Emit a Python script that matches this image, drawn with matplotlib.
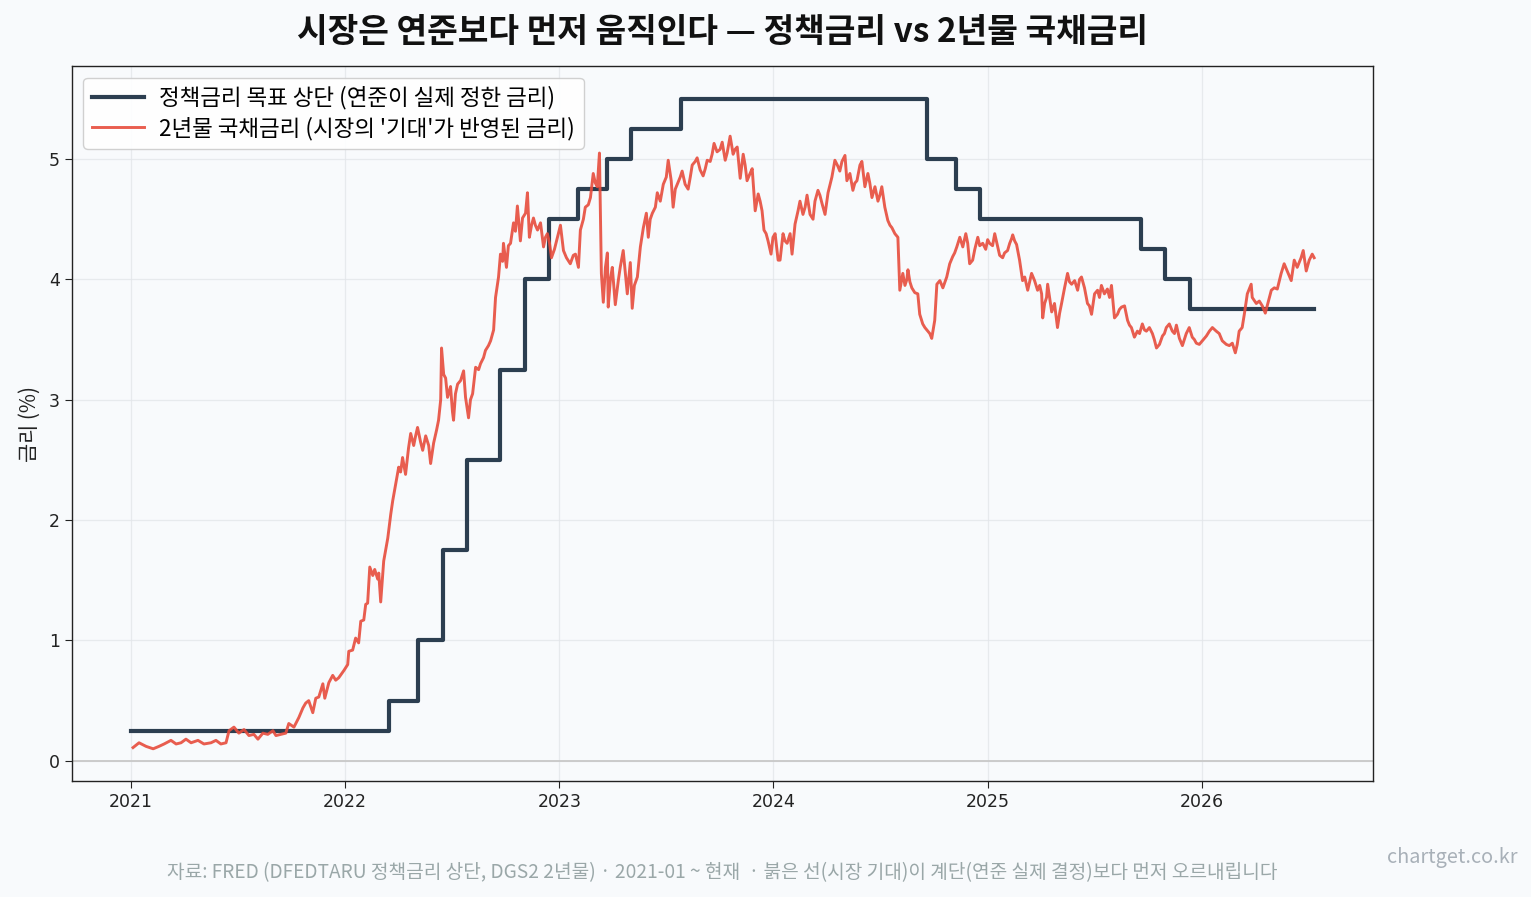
import matplotlib
matplotlib.use("Agg")
import matplotlib.pyplot as plt
import pandas as pd
import numpy as np

plt.rcParams['font.family'] = ['Noto Sans CJK KR', 'DejaVu Sans']

# ---------------- data ----------------
# Fed funds target upper bound: change dates and levels (step, held until next date)
policy_dates = ['2021-01-01', '2022-03-17', '2022-05-05', '2022-06-16', '2022-07-28',
                '2022-09-22', '2022-11-03', '2022-12-15', '2023-02-02', '2023-03-23',
                '2023-05-04', '2023-07-27', '2024-09-19', '2024-11-08', '2024-12-19',
                '2025-09-18', '2025-10-30', '2025-12-11', '2026-07-10']
policy_rate = [0.25, 0.50, 1.00, 1.75, 2.50, 3.25, 4.00, 4.50, 4.75, 5.00,
               5.25, 5.50, 5.00, 4.75, 4.50, 4.25, 4.00, 3.75, 3.75]

# 2-year Treasury yield: observation time (years after 2021-01-01) and value (%)
y2_t = [0.009, 0.037, 0.070, 0.103, 0.130, 0.154, 0.186, 0.210, 0.233, 0.256,
        0.280, 0.312, 0.340, 0.373, 0.396, 0.419, 0.443, 0.457, 0.480, 0.503,
        0.527, 0.550, 0.573, 0.592, 0.615, 0.638, 0.662, 0.676, 0.699, 0.722,
        0.736, 0.760, 0.783, 0.802, 0.815, 0.829, 0.848, 0.862, 0.876, 0.895,
        0.904, 0.923, 0.941, 0.955, 0.969, 0.993, 1.011, 1.016, 1.034, 1.048,
        1.062, 1.072, 1.086, 1.095, 1.104, 1.114, 1.128, 1.137, 1.151, 1.156,
        1.165, 1.174, 1.179, 1.188, 1.198, 1.212, 1.221, 1.235, 1.249, 1.258,
        1.267, 1.281, 1.295, 1.305, 1.319, 1.328, 1.337, 1.351, 1.361, 1.375,
        1.389, 1.398, 1.412, 1.426, 1.435, 1.445, 1.449, 1.459, 1.468, 1.477,
        1.491, 1.500, 1.505, 1.514, 1.524, 1.538, 1.552, 1.561, 1.575, 1.584,
        1.594, 1.608, 1.622, 1.631, 1.645, 1.654, 1.668, 1.678, 1.692, 1.701,
        1.715, 1.724, 1.734, 1.738, 1.752, 1.761, 1.771, 1.785, 1.794, 1.803,
        1.817, 1.827, 1.841, 1.850, 1.859, 1.869, 1.878, 1.887, 1.897, 1.911,
        1.925, 1.934, 1.943, 1.953, 1.962, 1.976, 1.990, 2.004, 2.018, 2.032,
        2.050, 2.064, 2.074, 2.088, 2.097, 2.111, 2.120, 2.134, 2.144, 2.157,
        2.167, 2.176, 2.186, 2.195, 2.204, 2.214, 2.223, 2.227, 2.237, 2.246,
        2.260, 2.274, 2.283, 2.297, 2.307, 2.316, 2.330, 2.339, 2.349, 2.363,
        2.377, 2.391, 2.405, 2.414, 2.423, 2.433, 2.447, 2.456, 2.470, 2.484,
        2.498, 2.507, 2.521, 2.530, 2.540, 2.549, 2.563, 2.572, 2.586, 2.600,
        2.610, 2.619, 2.633, 2.642, 2.656, 2.670, 2.680, 2.689, 2.703, 2.712,
        2.721, 2.735, 2.749, 2.759, 2.773, 2.782, 2.796, 2.810, 2.819, 2.829,
        2.843, 2.857, 2.866, 2.875, 2.889, 2.899, 2.913, 2.927, 2.936, 2.945,
        2.954, 2.964, 2.973, 2.987, 2.996, 3.006, 3.020, 3.029, 3.043, 3.052,
        3.062, 3.076, 3.085, 3.099, 3.113, 3.122, 3.136, 3.146, 3.155, 3.169,
        3.183, 3.192, 3.206, 3.215, 3.225, 3.239, 3.253, 3.271, 3.285, 3.299,
        3.308, 3.318, 3.332, 3.341, 3.355, 3.369, 3.378, 3.388, 3.402, 3.411,
        3.425, 3.439, 3.448, 3.458, 3.472, 3.486, 3.495, 3.504, 3.518, 3.532,
        3.542, 3.551, 3.565, 3.579, 3.588, 3.602, 3.612, 3.621, 3.626, 3.635,
        3.644, 3.658, 3.672, 3.681, 3.695, 3.705, 3.714, 3.728, 3.737, 3.751,
        3.761, 3.775, 3.789, 3.807, 3.821, 3.835, 3.844, 3.854, 3.868, 3.882,
        3.896, 3.905, 3.914, 3.928, 3.938, 3.952, 3.961, 3.975, 3.989, 3.998,
        4.007, 4.021, 4.031, 4.045, 4.054, 4.068, 4.077, 4.091, 4.101, 4.110,
        4.115, 4.124, 4.133, 4.147, 4.161, 4.171, 4.185, 4.194, 4.203, 4.217,
        4.231, 4.241, 4.250, 4.255, 4.264, 4.273, 4.278, 4.287, 4.297, 4.310,
        4.324, 4.334, 4.343, 4.357, 4.371, 4.380, 4.390, 4.404, 4.418, 4.427,
        4.436, 4.450, 4.464, 4.473, 4.483, 4.497, 4.511, 4.520, 4.529, 4.543,
        4.557, 4.567, 4.576, 4.590, 4.604, 4.613, 4.623, 4.637, 4.651, 4.660,
        4.669, 4.683, 4.697, 4.707, 4.720, 4.730, 4.739, 4.753, 4.767, 4.776,
        4.786, 4.800, 4.814, 4.823, 4.832, 4.846, 4.860, 4.870, 4.879, 4.893,
        4.907, 4.916, 4.925, 4.939, 4.953, 4.963, 4.972, 4.986, 5.000, 5.019,
        5.033, 5.047, 5.065, 5.079, 5.093, 5.112, 5.126, 5.140, 5.154, 5.163,
        5.172, 5.186, 5.196, 5.210, 5.228, 5.233, 5.252, 5.266, 5.280, 5.294,
        5.303, 5.322, 5.336, 5.350, 5.368, 5.382, 5.396, 5.415, 5.429, 5.443,
        5.461, 5.471, 5.485, 5.499, 5.513, 5.522]
y2_val = [0.11, 0.15, 0.12, 0.10, 0.12, 0.14, 0.17, 0.14, 0.15, 0.18,
          0.15, 0.17, 0.14, 0.15, 0.17, 0.14, 0.15, 0.25, 0.28, 0.23,
          0.26, 0.21, 0.22, 0.18, 0.23, 0.22, 0.25, 0.21, 0.22, 0.23,
          0.31, 0.28, 0.36, 0.44, 0.48, 0.50, 0.40, 0.52, 0.53, 0.64,
          0.52, 0.65, 0.71, 0.67, 0.69, 0.75, 0.80, 0.91, 0.92, 1.02,
          0.98, 1.16, 1.17, 1.30, 1.31, 1.61, 1.54, 1.59, 1.51, 1.56,
          1.32, 1.54, 1.66, 1.75, 1.85, 2.05, 2.16, 2.30, 2.44, 2.40,
          2.52, 2.38, 2.60, 2.72, 2.62, 2.70, 2.77, 2.65, 2.58, 2.70,
          2.62, 2.47, 2.64, 2.75, 2.83, 3.00, 3.43, 3.21, 3.18, 3.02,
          3.11, 2.90, 2.83, 3.05, 3.13, 3.16, 3.24, 3.02, 2.85, 3.00,
          3.05, 3.27, 3.25, 3.30, 3.35, 3.41, 3.45, 3.49, 3.58, 3.85,
          4.02, 4.21, 4.15, 4.30, 4.10, 4.28, 4.30, 4.47, 4.40, 4.61,
          4.32, 4.51, 4.55, 4.72, 4.35, 4.45, 4.51, 4.45, 4.41, 4.47,
          4.27, 4.35, 4.38, 4.30, 4.18, 4.25, 4.35, 4.45, 4.24, 4.18,
          4.13, 4.20, 4.21, 4.10, 4.41, 4.50, 4.60, 4.62, 4.68, 4.88,
          4.80, 4.77, 5.05, 4.05, 3.81, 4.10, 4.22, 3.77, 4.00, 4.10,
          3.79, 3.99, 4.10, 4.24, 4.05, 3.88, 4.14, 3.76, 3.95, 4.02,
          4.27, 4.43, 4.55, 4.35, 4.50, 4.55, 4.60, 4.72, 4.65, 4.79,
          4.85, 4.99, 4.82, 4.60, 4.75, 4.79, 4.85, 4.90, 4.79, 4.75,
          4.85, 4.95, 4.98, 5.01, 4.91, 4.86, 4.92, 4.99, 4.98, 5.04,
          5.13, 5.06, 5.08, 5.14, 4.99, 5.05, 5.19, 5.04, 5.08, 5.10,
          4.84, 5.04, 4.95, 4.82, 4.88, 4.92, 4.57, 4.71, 4.65, 4.57,
          4.41, 4.38, 4.32, 4.21, 4.35, 4.38, 4.16, 4.16, 4.38, 4.32,
          4.30, 4.38, 4.21, 4.46, 4.57, 4.65, 4.54, 4.60, 4.70, 4.54,
          4.50, 4.65, 4.74, 4.70, 4.63, 4.54, 4.72, 4.85, 4.99, 4.94,
          4.90, 4.98, 5.03, 4.82, 4.88, 4.74, 4.80, 4.82, 4.95, 4.98,
          4.77, 4.88, 4.80, 4.68, 4.77, 4.65, 4.70, 4.77, 4.60, 4.49,
          4.45, 4.43, 4.38, 4.35, 3.91, 4.05, 3.95, 4.00, 4.08, 3.98,
          3.93, 3.89, 3.88, 3.71, 3.63, 3.60, 3.58, 3.55, 3.51, 3.66,
          3.96, 3.99, 3.93, 4.02, 4.13, 4.19, 4.22, 4.27, 4.35, 4.27,
          4.38, 4.30, 4.13, 4.16, 4.25, 4.35, 4.28, 4.30, 4.25, 4.33,
          4.30, 4.28, 4.38, 4.27, 4.20, 4.18, 4.22, 4.24, 4.30, 4.34,
          4.37, 4.32, 4.29, 4.16, 3.99, 4.02, 3.91, 3.98, 4.05, 3.99,
          3.91, 3.95, 3.88, 3.68, 3.80, 3.85, 3.96, 3.85, 3.73, 3.80,
          3.60, 3.72, 3.80, 3.93, 4.05, 3.98, 3.96, 3.99, 3.91, 4.00,
          4.02, 3.93, 3.80, 3.78, 3.71, 3.88, 3.91, 3.85, 3.95, 3.88,
          3.92, 3.85, 3.95, 3.68, 3.71, 3.75, 3.77, 3.78, 3.66, 3.62,
          3.60, 3.52, 3.57, 3.55, 3.63, 3.58, 3.57, 3.60, 3.55, 3.50,
          3.43, 3.46, 3.53, 3.55, 3.60, 3.63, 3.57, 3.55, 3.62, 3.51,
          3.45, 3.50, 3.55, 3.60, 3.52, 3.50, 3.47, 3.46, 3.49, 3.53,
          3.57, 3.60, 3.57, 3.55, 3.49, 3.46, 3.45, 3.47, 3.39, 3.46,
          3.57, 3.60, 3.71, 3.88, 3.96, 3.85, 3.80, 3.82, 3.78, 3.72,
          3.78, 3.91, 3.93, 3.92, 4.05, 4.13, 4.07, 3.99, 4.16, 4.10,
          4.18, 4.24, 4.07, 4.16, 4.21, 4.18]

policy_label = '정책금리 목표 상단 (연준이 실제 정한 금리)'
y2_label = "2년물 국채금리 (시장의 '기대'가 반영된 금리)"
title = '시장은 연준보다 먼저 움직인다 — 정책금리 vs 2년물 국채금리'
ylabel = '금리 (%)'
footer = '자료: FRED (DFEDTARU 정책금리 상단, DGS2 2년물) · 2021-01 ~ 현재  · 붉은 선(시장 기대)이 계단(연준 실제 결정)보다 먼저 오르내립니다'
watermark = 'chartget.co.kr'

# ---------------- plot ----------------
bg = '#f8fafc'
fig = plt.figure(figsize=(15.31, 8.97), dpi=100, facecolor=bg)
ax = fig.add_axes([0.047, 0.129, 0.850, 0.797])
ax.set_facecolor(bg)

p_dates = pd.to_datetime(policy_dates)
start = pd.Timestamp('2021-01-01')
y2_dates = start + pd.to_timedelta(np.array(y2_t) * 365.25, unit='D')

ax.step(p_dates, policy_rate, where='post', color='#2c3e50', lw=3.0,
        label=policy_label, zorder=3)
ax.plot(y2_dates, y2_val, color='#e74c3c', lw=2.1, alpha=0.9,
        label=y2_label, zorder=4)
ax.autoscale_view()
lo, hi = ax.get_ylim()
ax.axhline(0, color='#c8c8c8', lw=1.3, zorder=1)
ax.set_ylim(lo, hi)

ax.xaxis.set_major_locator(matplotlib.dates.YearLocator())
ax.xaxis.set_major_formatter(matplotlib.dates.DateFormatter('%Y'))
ax.set_yticks([0, 1, 2, 3, 4, 5])
ax.tick_params(labelsize=12.5, colors='#222222', length=5)
for lab in ax.get_xticklabels() + ax.get_yticklabels():
    lab.set_family(['DejaVu Sans'])
ax.grid(True, color='#e3e6ea', lw=0.9, alpha=0.8)
ax.set_axisbelow(True)
for s in ax.spines.values():
    s.set_color('#222222')
    s.set_linewidth(1.0)

ax.set_ylabel(ylabel, fontsize=15, color='#222222', labelpad=6)

leg = ax.legend(loc='upper left', fontsize=16.2, frameon=True, fancybox=True,
                framealpha=0.9, edgecolor='#cccccc', borderpad=0.38,
                handlelength=2.3, labelspacing=0.3, handletextpad=0.7)
leg.get_frame().set_facecolor('white')

fig.text(0.4718, 0.964, title, ha='center', va='center', fontsize=24,
         fontweight='bold', color='#111111')
fig.text(0.4718, 0.027, footer, ha='center', va='center', fontsize=13.8,
         color='#9aa7a8')
fig.text(0.991, 0.0435, watermark, ha='right', va='center', fontsize=14.3,
         color='#a8b0b8')

fig.savefig('out.png', dpi=100, facecolor=bg)
